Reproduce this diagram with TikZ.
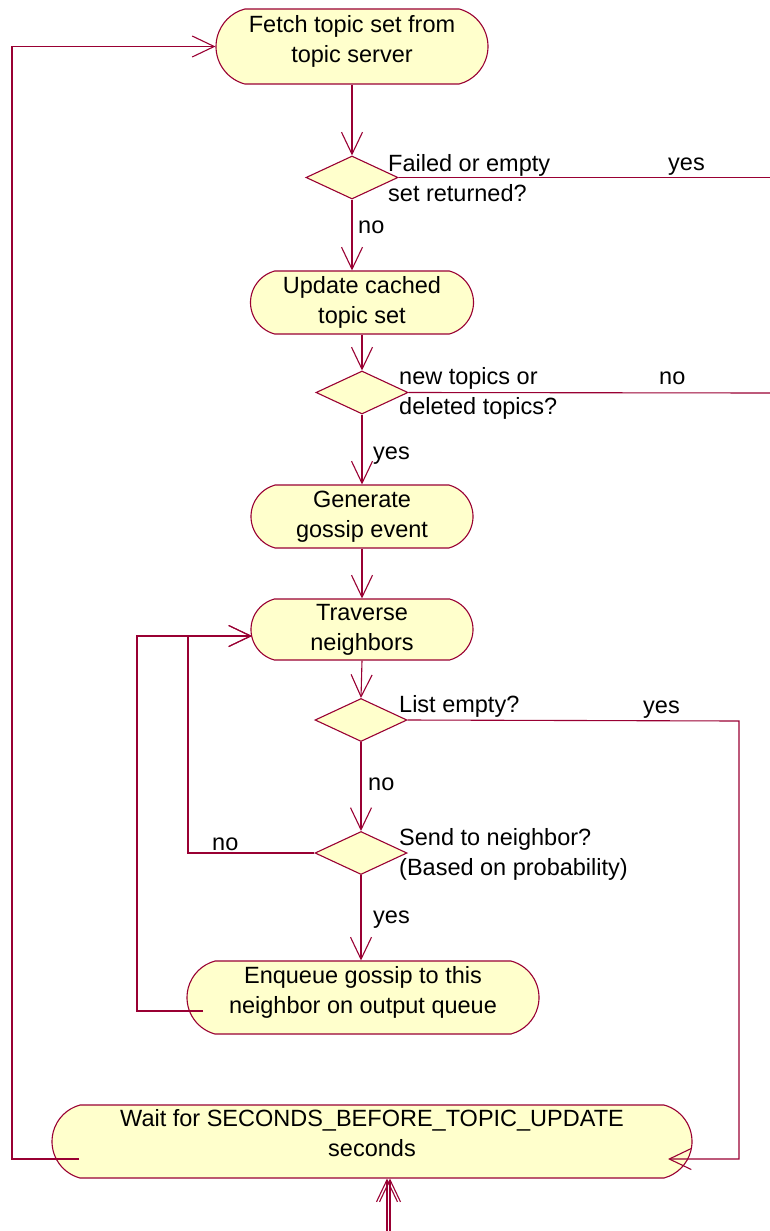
\documentclass[tikz,border=0pt]{standalone}
\usepackage{fontspec}
\setmainfont{Liberation Sans}
\usetikzlibrary{shapes.geometric,shapes.misc,arrows.meta}
\definecolor{wire}{RGB}{153,0,51}
\definecolor{paper}{RGB}{255,255,204}
\begin{document}
\begin{tikzpicture}[x=1pt,y=-1pt,
  font=\fontsize{23.5}{30}\selectfont,
  act/.style={rounded rectangle, rounded rectangle arc length=150,
    draw=wire, fill=paper, line width=1.1pt, inner sep=0pt},
  acttext/.style={align=center, inner sep=0pt},
  choice/.style={diamond, draw=wire, fill=paper, line width=1.1pt,
    inner sep=0pt, minimum width=92pt, minimum height=43pt},
  lbl/.style={inner sep=0pt, anchor=base west},
  quest/.style={inner sep=0pt, anchor=west, align=left},
  link/.style={draw=wire, line width=1.1pt},
  flow/.style={link, -{Straight Barb[length=22pt,width=21pt]}},
]
\useasboundingbox (0,0) rectangle (770,1231);

% activities
\node[act, minimum width=272pt, minimum height=75pt,
  label={[acttext,yshift=5pt]center:{Fetch topic set from\\topic server}}] (fetch) at (352,46.5) {};
\node[act, minimum width=223pt, minimum height=63pt,
  label={[acttext]center:{Update cached\\topic set}}] (upd) at (362,302.5) {};
\node[act, minimum width=222pt, minimum height=63pt,
  label={[acttext]center:{Generate\\gossip event}}] (gen) at (362,516.5) {};
\node[act, minimum width=222pt, minimum height=61pt,
  label={[acttext]center:{Traverse\\neighbors}}] (trv) at (362,629.5) {};
\node[act, minimum width=352pt, minimum height=73pt,
  label={[acttext,yshift=5pt]center:{Enqueue gossip to this\\neighbor on output queue}}] (enq) at (363,997.5) {};
\node[act, minimum width=640pt, minimum height=73pt,
  label={[acttext,yshift=8pt]center:{Wait for SECONDS\_BEFORE\_TOPIC\_UPDATE\\seconds}}] (wait) at (372,1141.5) {};

% decisions
\node[choice] (d1) at (352,177.5) {};
\node[choice] (d2) at (362,392.5) {};
\node[choice] (d3) at (361,720) {};
\node[choice] (d4) at (361,853) {};

% decision texts
\node[quest] (q1) at (388,178) {Failed or empty\\set returned?};
\node[quest] (q2) at (399,393) {new topics or\\deleted topics?};
\node[lbl] (q3) at (399,712) {List empty?};
\node[quest] (q4) at (399,854) {Send to neighbor?\\(Based on probability)};

% branch labels
\node[lbl] (y1) at (668,170) {yes};
\node[lbl] (n1) at (358,233) {no};
\node[lbl] (n2) at (659,384) {no};
\node[lbl] (y2) at (373,459) {yes};
\node[lbl] (y3) at (643,713) {yes};
\node[lbl] (n3) at (368,790) {no};
\node[lbl] (n4) at (212,850) {no};
\node[lbl] (y4) at (373,923) {yes};

% connector end points
\coordinate (r1) at (770,177.5);
\coordinate (r2) at (770,393);
\coordinate (rc) at (739,721);
\coordinate (wr) at (668,1159);
\coordinate (wl) at (79,1159);
\coordinate (eql) at (203,1011);
\coordinate (tin) at (252,636);
\coordinate (b1) at (387,1231);
\coordinate (b2) at (390,1231);

% connectors
\draw[flow] (fetch.south) -- (d1.north);
\draw[link] (d1.east) -- (r1);
\draw[flow] (d1.south) -- (d1.south |- upd.north);
\draw[flow] (upd.south) -- (d2.north);
\draw[link] (d2.east) -- (r2);
\draw[flow] (d2.south) -- (gen.north);
\draw[flow] (gen.south) -- (trv.north);
\draw[flow] (trv.south) -- (d3.north);
\draw[flow] (d3.east) -- (rc) |- (wr);
\draw[flow] (d3.south) -- (d4.north);
\draw[flow] (d4.west) -| (188,636) -- (tin);
\draw[flow] (eql) -| (137,636) -- (tin);
\draw[flow] (d4.south) -- (d4.south |- enq.north);
\draw[flow] (wl) -- (12,1159) |- (fetch.west);
\draw[flow] (b1) -- (b1 |- wait.south);
\draw[flow] (b2) -- (b2 |- wait.south);
\end{tikzpicture}
\end{document}
